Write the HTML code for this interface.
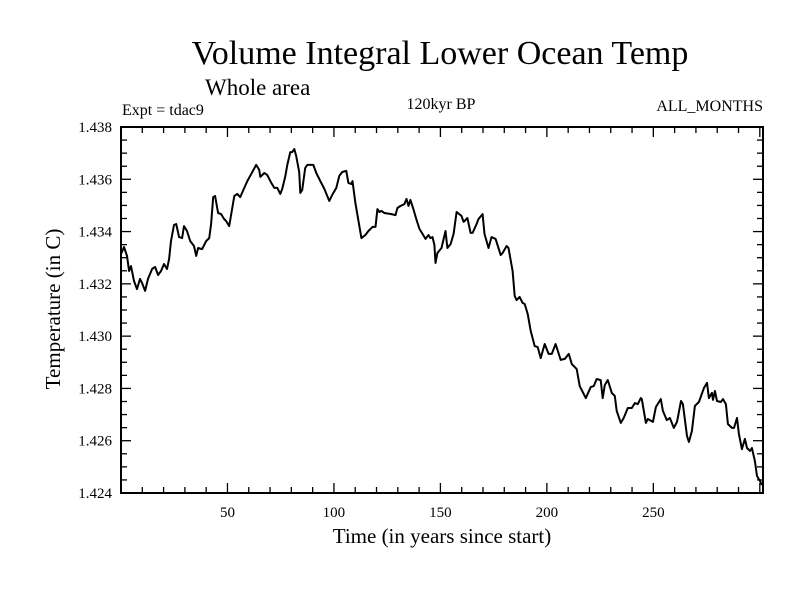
<!DOCTYPE html>
<html><head><meta charset="utf-8">
<style>
body{margin:0;background:#fff;}
svg{display:block;font-family:"Liberation Serif",serif;}
</style></head>
<body>
<svg id="chart" width="800" height="600">
<rect x="0" y="0" width="800" height="600" fill="#fff"/>
<text x="440" y="64" font-size="34" text-anchor="middle">Volume Integral Lower Ocean Temp</text>
<text x="205" y="95" font-size="23">Whole area</text>
<text x="122" y="115" font-size="16">Expt = tdac9</text>
<text x="441" y="109" font-size="16" text-anchor="middle">120kyr BP</text>
<text x="763" y="111" font-size="16" text-anchor="end">ALL_MONTHS</text>
<text x="442" y="543" font-size="21" text-anchor="middle">Time (in years since start)</text>
<text transform="translate(60,309) rotate(-90)" font-size="21" text-anchor="middle">Temperature (in C)</text>
<g id="axes"></g>
<g id="series"></g>
<rect x="121" y="127" width="642" height="366" fill="none" stroke="#000" stroke-width="2"/>
</svg>
<script>
const years=[0,1.4,2.8,3.8,4.7,6.1,7.5,8.9,9.9,11.3,12.7,14.6,16.0,17.4,18.8,20.2,21.6,22.6,23.5,24.9,25.9,27.3,28.7,29.6,31.0,32.5,34.3,35.3,36.2,38.1,40.0,41.4,42.3,43.3,44.2,45.6,47.0,48.4,49.4,50.8,53.2,54.6,56.0,59.3,63.5,64.9,65.4,67.3,68.7,70.6,72.0,73.4,74.8,75.7,77.1,78.1,79.5,80.4,81.4,82.3,83.7,84.2,85.1,86.5,87.5,90.3,91.7,93.6,95.5,97.8,99.2,101.1,102.5,103.9,105.8,106.8,108.2,108.7,110.1,112.9,114.8,116.2,118.1,119.5,120.4,121.4,122.3,123.7,127.0,128.9,129.8,131.2,133.1,134.1,135.0,135.9,137.3,138.8,140.2,141.6,143.0,144.4,145.3,146.3,147.2,147.7,148.6,150.5,152.4,153.3,154.8,156.2,157.6,159.9,160.9,162.7,164.2,165.1,167.0,167.9,169.8,170.7,172.6,174.0,175.9,178.3,179.2,181.1,182.0,183.9,184.9,185.8,187.2,188.6,189.6,191.0,192.4,194.3,195.7,197.1,199.0,200.8,202.3,204.1,206.5,208.4,210.3,211.7,214.0,215.4,218.3,220.6,222.0,223.4,225.3,226.2,227.2,228.6,230.5,231.9,232.8,234.7,236.1,238.0,239.9,241.3,242.7,244.1,244.6,246.5,247.4,249.8,251.2,253.5,254.5,256.3,257.8,259.6,261.1,263.0,263.9,265.8,266.7,268.1,269.5,271.4,273.8,275.2,276.1,277.5,278.0,278.9,279.9,281.7,282.7,284.1,285.0,286.9,287.9,289.3,290.2,291.6,293.0,294.0,295.4,296.3,297.7,298.7,300.1,301.0];
const temps=[1.43314,1.43341,1.43307,1.43249,1.43268,1.43211,1.43180,1.43219,1.43203,1.43173,1.43219,1.43257,1.43265,1.43234,1.43249,1.43276,1.43257,1.43295,1.43364,1.43425,1.43429,1.43379,1.43375,1.43421,1.43402,1.43364,1.43345,1.43307,1.43337,1.43333,1.43364,1.43375,1.43429,1.43532,1.43536,1.43471,1.43467,1.43448,1.43440,1.43421,1.43536,1.43544,1.43532,1.43593,1.43655,1.43636,1.43609,1.43624,1.43616,1.43586,1.43567,1.43567,1.43544,1.43563,1.43609,1.43655,1.43704,1.43704,1.43716,1.43689,1.43628,1.43548,1.43559,1.43643,1.43655,1.43655,1.43624,1.43593,1.43563,1.43517,1.43540,1.43567,1.43613,1.43628,1.43632,1.43586,1.43582,1.43593,1.43509,1.43375,1.43387,1.43402,1.43418,1.43418,1.43486,1.43475,1.43479,1.43471,1.43467,1.43463,1.43490,1.43498,1.43505,1.43525,1.43498,1.43521,1.43486,1.43444,1.43410,1.43391,1.43372,1.43387,1.43375,1.43379,1.43349,1.43280,1.43318,1.43337,1.43402,1.43337,1.43352,1.43391,1.43475,1.43460,1.43437,1.43452,1.43395,1.43395,1.43429,1.43448,1.43467,1.43391,1.43337,1.43379,1.43372,1.43310,1.43318,1.43345,1.43337,1.43249,1.43154,1.43138,1.43150,1.43127,1.43123,1.43085,1.43020,1.42962,1.42958,1.42916,1.42970,1.42932,1.42932,1.42970,1.42909,1.42913,1.42932,1.42893,1.42874,1.42809,1.42763,1.42805,1.42809,1.42836,1.42832,1.42763,1.42813,1.42832,1.42783,1.42771,1.42714,1.42668,1.42687,1.42725,1.42725,1.42744,1.42740,1.42763,1.42759,1.42668,1.42683,1.42672,1.42729,1.42759,1.42714,1.42679,1.42687,1.42649,1.42672,1.42752,1.42740,1.42618,1.42595,1.42637,1.42733,1.42748,1.42802,1.42821,1.42763,1.42783,1.42756,1.42790,1.42752,1.42748,1.42759,1.42740,1.42664,1.42649,1.42649,1.42687,1.42626,1.42568,1.42607,1.42572,1.42561,1.42572,1.42522,1.42465,1.42446,1.42431];
const xTickLabels=[50,100,150,200,250];
const yTickLabels=["1.424","1.426","1.428","1.430","1.432","1.434","1.436","1.438"];
const X0=121,X1=763,Y0=127,Y1=493,XMIN=0,XMAX=301.5,YMIN=1.424,YMAX=1.438;
function sx(v){return X0+(v-XMIN)/(XMAX-XMIN)*(X1-X0);}
function sy(v){return Y1-(v-YMIN)/(YMAX-YMIN)*(Y1-Y0);}
const NS="http://www.w3.org/2000/svg";
const axes=document.getElementById('axes');
function line(x1,y1,x2,y2,name){const l=document.createElementNS(NS,'line');l.setAttribute('x1',x1);l.setAttribute('y1',y1);l.setAttribute('x2',x2);l.setAttribute('y2',y2);l.setAttribute('stroke','#000');l.setAttribute('stroke-width','1.3');


axes.appendChild(l);}
for(let v=10;v<=300;v+=10){const x=sx(v);const L=(v%50===0)?10:6;line(x,Y1,x,Y1-L,'x-tick');line(x,Y0,x,Y0+L,'x-tick-top');}
for(let k=0;k<=28;k++){const v=YMIN+k*0.0005;const y=sy(v);const L=(k%4===0)?10:6;line(X0,y,X0+L,y,'y-tick');line(X1,y,X1-L,y,'y-tick-right');}
xTickLabels.forEach(v=>{const t=document.createElementNS(NS,'text');t.setAttribute('x',sx(v));t.setAttribute('y',Y1+24);t.setAttribute('font-size','15');t.setAttribute('text-anchor','middle');t.textContent=v;


axes.appendChild(t);});
yTickLabels.forEach(s=>{const t=document.createElementNS(NS,'text');t.setAttribute('x',112);t.setAttribute('y',sy(parseFloat(s))+5);t.setAttribute('font-size','15');t.setAttribute('text-anchor','end');t.textContent=s;


axes.appendChild(t);});
const p=document.createElementNS(NS,'path');
p.setAttribute('d',years.map((y,i)=>(i?'L':'M')+sx(y).toFixed(1)+','+sy(temps[i]).toFixed(1)).join(''));
p.setAttribute('fill','none');p.setAttribute('stroke','#000');p.setAttribute('stroke-width','2');p.setAttribute('stroke-linejoin','round');


document.getElementById('series').appendChild(p);
</script>
</body></html>
